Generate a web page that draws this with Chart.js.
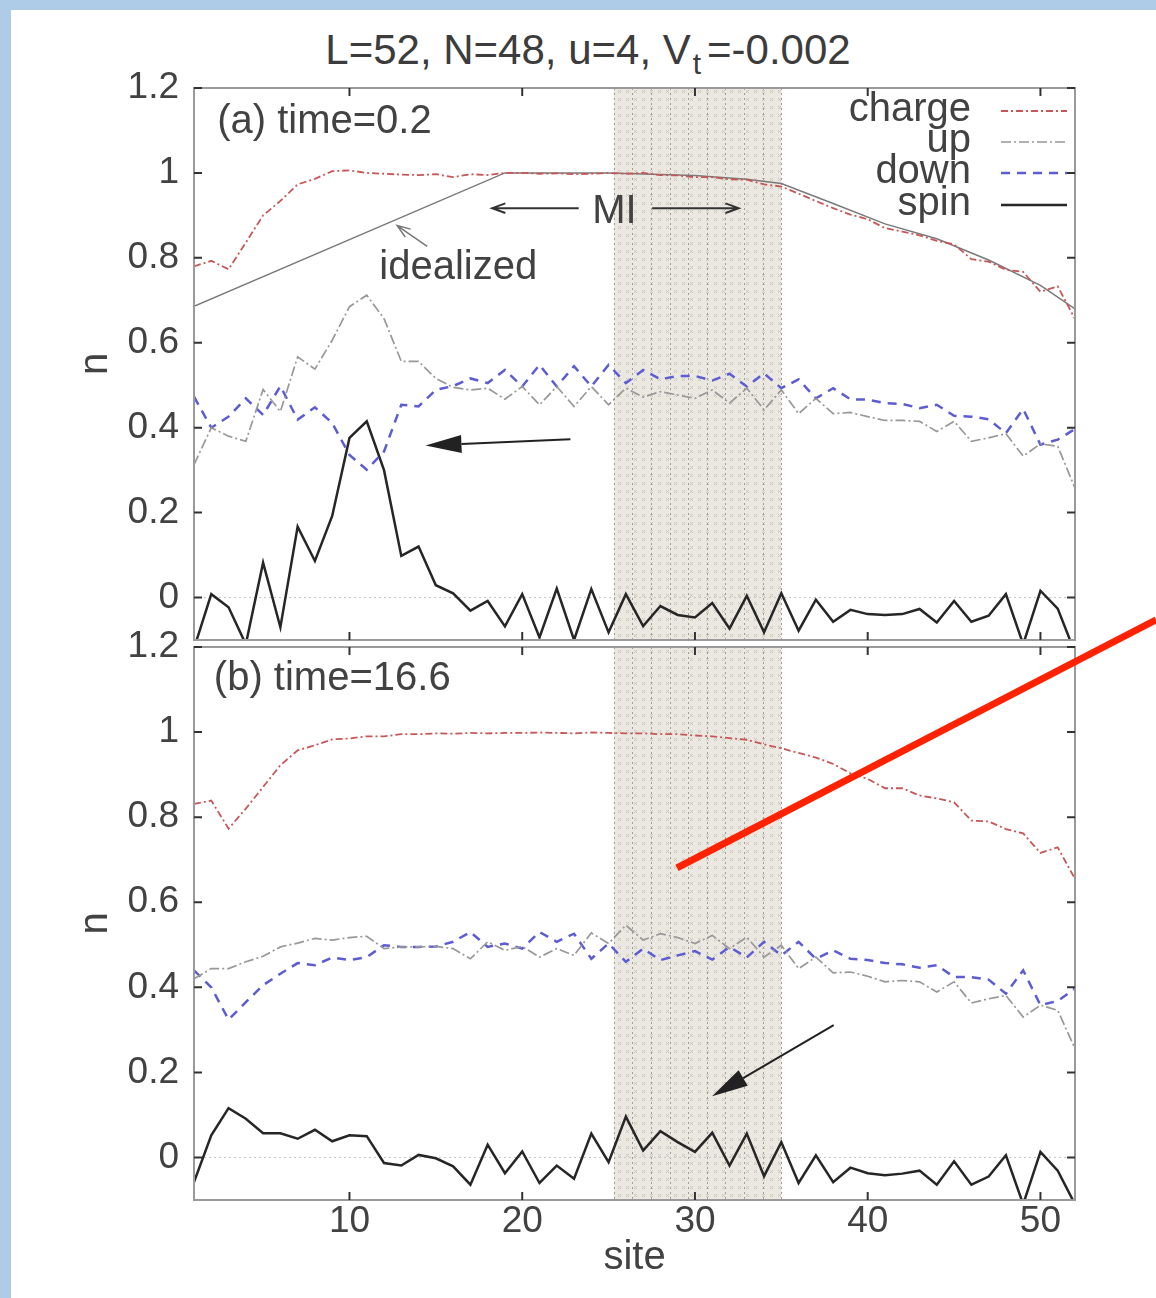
<!DOCTYPE html>
<html>
<head>
<meta charset="utf-8">
<script src="https://cdn.jsdelivr.net/npm/chart.js@4.4.1/dist/chart.umd.min.js"></script>
<style>
  html,body{margin:0;padding:0;background:#fff}
  #wrap{position:relative;width:1156px;height:1298px;overflow:hidden;background:#fff}
  #wrap canvas{position:absolute;left:0;top:0}
  .band{position:absolute;background:#aecbe8}
  #title{position:absolute;left:0;top:29px;width:1176px;text-align:center;font:42px/42px "Liberation Sans",Arial,sans-serif;color:#3c3c3c;white-space:nowrap}
  #title sub{font-size:30px;line-height:0;vertical-align:-10px;margin:0 6px 0 2px}
</style>
</head>
<body>
<div id="wrap">
  <div class="band" style="left:0;top:0;width:1156px;height:10px"></div>
  <div class="band" style="left:0;top:0;width:11px;height:1298px"></div>
  <div id="title">L=52, N=48, u=4, V<sub>t</sub>=-0.002</div>
  <canvas id="pa" width="1156" height="1298"></canvas>
  <canvas id="pb" width="1156" height="1298"></canvas>
</div>
<script>
const sites=[1,2,3,4,5,6,7,8,9,10,11,12,13,14,15,16,17,18,19,20,21,22,23,24,25,26,27,28,29,30,31,32,33,34,35,36,37,38,39,40,41,42,43,44,45,46,47,48,49,50,51,52];
const xTicks=[10,20,30,40,50];
const yTicks=[0,0.2,0.4,0.6,0.8,1,1.2];
const miRange=[25.3,35];

// (a) time=0.2
const chargeA=[0.780,0.793,0.773,0.836,0.900,0.934,0.973,0.986,1.004,1.006,1.000,0.998,0.996,0.995,0.997,0.990,0.997,0.995,1.000,1.000,0.998,0.999,0.997,0.998,1.000,0.998,1.000,0.995,0.994,0.990,0.990,0.985,0.984,0.973,0.968,0.951,0.934,0.917,0.902,0.891,0.870,0.862,0.853,0.840,0.832,0.797,0.791,0.772,0.767,0.720,0.733,0.656];
const upA=[0.313,0.400,0.380,0.368,0.490,0.438,0.567,0.538,0.606,0.685,0.712,0.657,0.556,0.556,0.516,0.495,0.489,0.493,0.467,0.497,0.454,0.497,0.450,0.497,0.454,0.493,0.472,0.485,0.477,0.469,0.489,0.458,0.493,0.442,0.489,0.433,0.469,0.433,0.436,0.426,0.417,0.417,0.415,0.391,0.415,0.368,0.376,0.386,0.333,0.362,0.356,0.258];
const downA=[0.473,0.400,0.426,0.469,0.430,0.498,0.419,0.448,0.411,0.336,0.301,0.344,0.454,0.450,0.489,0.498,0.516,0.505,0.536,0.497,0.548,0.497,0.545,0.497,0.548,0.505,0.536,0.514,0.522,0.522,0.511,0.527,0.497,0.528,0.493,0.514,0.469,0.493,0.467,0.466,0.458,0.456,0.446,0.454,0.428,0.426,0.420,0.387,0.444,0.360,0.372,0.397];
const spinA=[-0.12,0.008,-0.023,-0.11,0.082,-0.07,0.167,0.086,0.192,0.376,0.415,0.300,0.098,0.120,0.029,0.010,-0.031,-0.008,-0.068,0.008,-0.094,0.021,-0.100,0.020,-0.082,0.008,-0.067,-0.020,-0.041,-0.047,-0.013,-0.073,0.004,-0.082,0.010,-0.078,-0.005,-0.057,-0.029,-0.039,-0.041,-0.039,-0.027,-0.059,-0.008,-0.057,-0.043,0.008,-0.11,0.016,-0.026,-0.13];
const idealSites=[1,19,25,30,33,35,38,41,44,47,50,52];
const idealVals=[0.686,1.0,1.0,0.994,0.985,0.975,0.928,0.880,0.845,0.795,0.735,0.680];

// (b) time=16.6
const chargeB=[0.831,0.839,0.773,0.820,0.871,0.922,0.957,0.969,0.983,0.985,0.990,0.990,0.995,0.995,0.997,0.996,0.998,0.997,0.998,0.998,0.999,0.998,0.997,0.999,0.998,0.997,0.997,0.995,0.995,0.992,0.990,0.986,0.982,0.971,0.962,0.951,0.940,0.925,0.903,0.890,0.868,0.868,0.851,0.844,0.835,0.792,0.790,0.772,0.762,0.716,0.729,0.655];
const upB=[0.420,0.444,0.444,0.460,0.473,0.495,0.504,0.515,0.511,0.517,0.520,0.491,0.495,0.495,0.496,0.491,0.467,0.507,0.487,0.496,0.471,0.491,0.475,0.528,0.503,0.546,0.511,0.526,0.517,0.503,0.522,0.491,0.518,0.471,0.499,0.444,0.471,0.434,0.436,0.426,0.413,0.416,0.413,0.389,0.413,0.363,0.373,0.381,0.330,0.358,0.346,0.256];
const downB=[0.440,0.400,0.324,0.365,0.405,0.432,0.457,0.452,0.470,0.464,0.471,0.499,0.495,0.495,0.496,0.507,0.530,0.495,0.503,0.491,0.530,0.507,0.526,0.467,0.503,0.460,0.491,0.464,0.475,0.485,0.465,0.495,0.470,0.507,0.475,0.507,0.467,0.487,0.467,0.464,0.457,0.454,0.446,0.452,0.424,0.424,0.418,0.385,0.440,0.358,0.368,0.397];
const spinB=[-0.058,0.052,0.116,0.091,0.057,0.057,0.044,0.065,0.038,0.052,0.050,-0.013,-0.019,0.006,-0.002,-0.021,-0.064,0.030,-0.037,0.014,-0.060,-0.019,-0.050,0.056,-0.011,0.096,0.016,0.062,0.036,0.013,0.058,-0.019,0.056,-0.044,0.036,-0.060,0.005,-0.058,-0.024,-0.037,-0.042,-0.038,-0.031,-0.064,-0.009,-0.064,-0.045,0.005,-0.110,0.013,-0.031,-0.110];

const FONT='"Liberation Sans", Arial, sans-serif';
const INK='#424242';

const pts=(xs,ys)=>xs.map((x,i)=>({x,y:ys[i]}));
const styles={
  charge:{borderColor:'#c95656',borderWidth:1.8,borderDash:[7,3,2,3]},
  up:{borderColor:'#989898',borderWidth:1.7,borderDash:[10,3,2,3]},
  down:{borderColor:'#5c5cd4',borderWidth:2.5,borderDash:[9,7]},
  spin:{borderColor:'#262626',borderWidth:2.5,borderDash:[]},
  ideal:{borderColor:'#7a7a7a',borderWidth:1.5,borderDash:[]}
};
function ds(label,data,st,legend){
  return Object.assign({label,data,pointRadius:0,tension:0,fill:false,inLegend:legend},st);
}

let shade=null;
function shadePattern(ctx){
  if(shade)return shade;
  const c=document.createElement('canvas');c.width=8;c.height=8;
  const g=c.getContext('2d');
  g.fillStyle='#ebe8e2';g.fillRect(0,0,8,8);
  g.strokeStyle='#cbc6bc';g.lineWidth=1;
  g.beginPath();g.moveTo(2,2);g.lineTo(5,5);g.moveTo(5,2);g.lineTo(2,5);g.stroke();
  shade=ctx.createPattern(c,'repeat');
  return shade;
}

function arrow(ctx,x1,y1,x2,y2,filled,color,w){
  const ang=Math.atan2(y2-y1,x2-x1);
  ctx.save();
  ctx.strokeStyle=color;ctx.fillStyle=color;ctx.lineWidth=w;ctx.setLineDash([]);
  if(filled){
    const L=36,H=9;
    const bx=x2-L*Math.cos(ang),by=y2-L*Math.sin(ang);
    ctx.beginPath();ctx.moveTo(x1,y1);ctx.lineTo(bx,by);ctx.stroke();
    ctx.beginPath();ctx.moveTo(x2,y2);
    ctx.lineTo(bx+H*Math.sin(ang),by-H*Math.cos(ang));
    ctx.lineTo(bx-H*Math.sin(ang),by+H*Math.cos(ang));
    ctx.closePath();ctx.fill();
  }else{
    const L=14,A=0.35;
    ctx.beginPath();ctx.moveTo(x1,y1);ctx.lineTo(x2,y2);
    ctx.moveTo(x2-L*Math.cos(ang-A),y2-L*Math.sin(ang-A));ctx.lineTo(x2,y2);
    ctx.lineTo(x2-L*Math.cos(ang+A),y2-L*Math.sin(ang+A));ctx.stroke();
  }
  ctx.restore();
}

const deco={
  id:'deco',
  beforeDatasetsDraw(chart,args,o){
    const {ctx,chartArea:a,scales:{x,y}}=chart;
    ctx.save();
    const x0=x.getPixelForValue(miRange[0]),x1=x.getPixelForValue(miRange[1]);
    ctx.fillStyle=shadePattern(ctx);
    ctx.fillRect(x0,a.top,x1-x0,a.bottom-a.top);
    ctx.strokeStyle='#a29d94';ctx.lineWidth=1;ctx.setLineDash([2,3]);
    for(let i=0;i<10;i++){
      const xx=Math.round(x0+(x1-x0)*i/9)+0.5;
      ctx.beginPath();ctx.moveTo(xx,a.top);ctx.lineTo(xx,a.bottom);ctx.stroke();
    }
    const y0=y.getPixelForValue(0);
    ctx.strokeStyle='#c6c6c6';ctx.setLineDash([2,3]);
    ctx.beginPath();ctx.moveTo(a.left,y0);ctx.lineTo(a.right,y0);ctx.stroke();
    ctx.restore();
  },
  afterDraw(chart,args,o){
    const {ctx,chartArea:a,scales:{x,y}}=chart;
    ctx.save();
    // frame
    ctx.strokeStyle='#9a9a9a';ctx.lineWidth=2;ctx.setLineDash([]);
    ctx.strokeRect(a.left,a.top,a.right-a.left,a.bottom-a.top);
    // inward ticks, mirrored
    ctx.strokeStyle='#333';ctx.lineWidth=2;
    ctx.beginPath();
    yTicks.forEach(v=>{const p=y.getPixelForValue(v);ctx.moveTo(a.left,p);ctx.lineTo(a.left+8,p);ctx.moveTo(a.right-8,p);ctx.lineTo(a.right,p);});
    xTicks.forEach(v=>{const p=x.getPixelForValue(v);ctx.moveTo(p,a.bottom);ctx.lineTo(p,a.bottom-8);ctx.moveTo(p,a.top);ctx.lineTo(p,a.top+8);});
    ctx.stroke();
    // labels inside the plot
    ctx.fillStyle=INK;ctx.textBaseline='alphabetic';
    (o.texts||[]).forEach(t=>{
      ctx.font=(t.size||40)+'px '+FONT;ctx.textAlign=t.align||'left';
      ctx.fillText(t.t,x.getPixelForValue(t.at[0]),y.getPixelForValue(t.at[1]));
    });
    (o.arrows||[]).forEach(r=>{
      arrow(ctx,x.getPixelForValue(r.from[0]),y.getPixelForValue(r.from[1]),x.getPixelForValue(r.to[0]),y.getPixelForValue(r.to[1]),r.filled,r.color||'#333',r.width||2);
    });
    // axis titles
    ctx.fillStyle=INK;ctx.font='40px '+FONT;ctx.textAlign='center';ctx.textBaseline='middle';
    ctx.save();ctx.translate(96,(a.top+a.bottom)/2);ctx.rotate(-Math.PI/2);ctx.fillText('n',0,0);ctx.restore();
    if(o.xTitle){ctx.textBaseline='alphabetic';ctx.fillText(o.xTitle,(a.left+a.right)/2,1269);}
    // legend
    if(o.legend){
      const rows=[23,54,85,117];
      chart.data.datasets.filter(d=>d.inLegend).forEach((d,i)=>{
        const ly=a.top+rows[i];
        ctx.fillStyle=INK;ctx.font='40px '+FONT;ctx.textAlign='right';ctx.textBaseline='alphabetic';
        ctx.fillText(d.label,a.right-104,ly+10);
        ctx.strokeStyle=d.borderColor;ctx.lineWidth=d.borderWidth;ctx.setLineDash(d.borderDash);
        ctx.beginPath();ctx.moveTo(a.right-74,ly);ctx.lineTo(a.right-8,ly);ctx.stroke();
      });
      ctx.setLineDash([]);
    }
    // red overlay stroke
    if(o.mark){
      ctx.strokeStyle=o.mark.color;ctx.lineWidth=o.mark.width;ctx.lineCap='butt';ctx.setLineDash([]);
      ctx.beginPath();
      ctx.moveTo(x.getPixelForValue(o.mark.from[0]),y.getPixelForValue(o.mark.from[1]));
      ctx.lineTo(x.getPixelForValue(o.mark.to[0]),y.getPixelForValue(o.mark.to[1]));
      ctx.stroke();
    }
    ctx.restore();
  }
};

function panel(id,sets,cfg){
  return new Chart(document.getElementById(id),{
    type:'line',
    data:{datasets:sets},
    options:{
      responsive:false,animation:false,events:[],
      layout:{padding:cfg.pad},
      plugins:{legend:{display:false},tooltip:{enabled:false},deco:cfg.deco},
      scales:{
        x:{type:'linear',min:1,max:52,
          afterBuildTicks:s=>{s.ticks=xTicks.map(v=>({value:v}));},
          afterFit:s=>{s.height=cfg.xh;},
          grid:{display:false,drawTicks:false},border:{display:false},
          ticks:{display:cfg.xLabels,padding:0,autoSkip:false,maxRotation:0,color:INK,font:{size:37,family:FONT}}},
        y:{min:-0.1,max:1.2,
          afterBuildTicks:s=>{s.ticks=yTicks.map(v=>({value:v}));},
          afterFit:s=>{s.width=194;},
          grid:{display:false,drawTicks:false},border:{display:false},
          ticks:{padding:15,color:INK,font:{size:37,family:FONT},callback:v=>String(v)}}
      }
    },
    plugins:[deco]
  });
}

panel('pa',[
  ds('charge',pts(sites,chargeA),styles.charge,true),
  ds('up',pts(sites,upA),styles.up,true),
  ds('down',pts(sites,downA),styles.down,true),
  ds('spin',pts(sites,spinA),styles.spin,true),
  ds('idealized',pts(idealSites,idealVals),styles.ideal,false)
],{
  pad:{left:0,top:88,right:81,bottom:658},xh:0,xLabels:false,
  deco:{
    legend:true,
    texts:[
      {t:'(a) time=0.2',at:[2.34,1.093]},
      {t:'idealized',at:[11.73,0.751]},
      {t:'MI',at:[25.34,0.883],align:'center'}
    ],
    arrows:[
      {from:[23.27,0.917],to:[18.26,0.917],filled:false},
      {from:[27.52,0.917],to:[32.53,0.917],filled:false},
      {from:[14.5,0.827],to:[12.76,0.876],filled:false,color:'#777',width:1.5},
      {from:[22.79,0.373],to:[14.4,0.358],filled:true,color:'#222'}
    ]
  }
});

panel('pb',[
  ds('charge',pts(sites,chargeB),styles.charge,false),
  ds('up',pts(sites,upB),styles.up,false),
  ds('down',pts(sites,downB),styles.down,false),
  ds('spin',pts(sites,spinB),styles.spin,false)
],{
  pad:{left:0,top:647,right:81,bottom:38},xh:60,xLabels:true,
  deco:{
    xTitle:'site',
    texts:[{t:'(b) time=16.6',at:[2.15,1.099]}],
    arrows:[{from:[38.03,0.311],to:[30.99,0.144],filled:true,color:'#222'}],
    mark:{from:[28.96,0.681],to:[56.7,1.264],color:'#ff2200',width:7}
  }
});
</script>
</body>
</html>
